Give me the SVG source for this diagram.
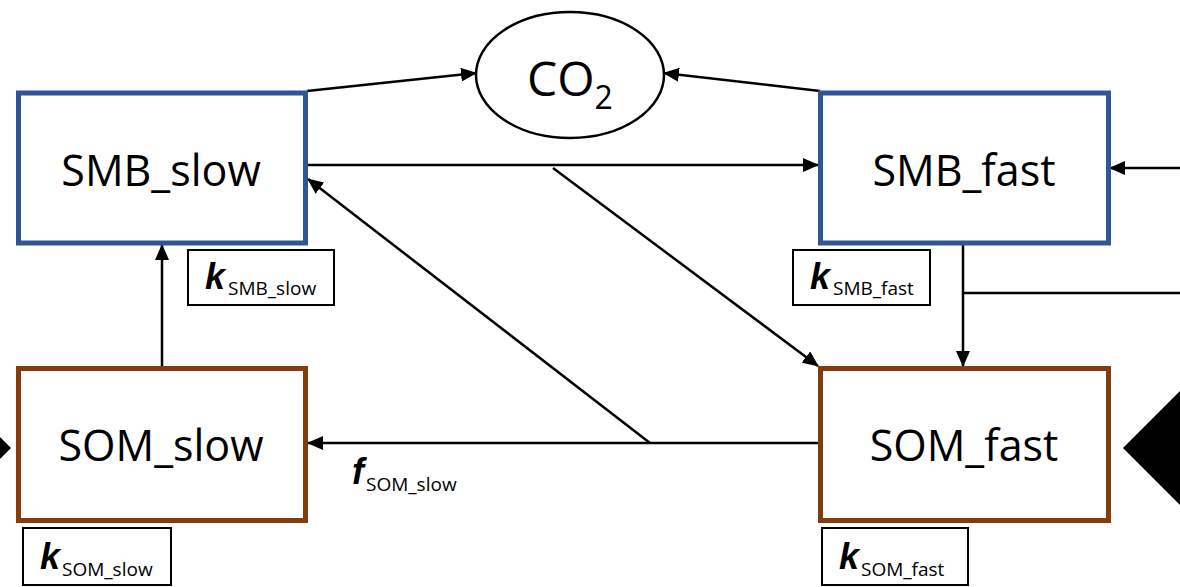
<svg xmlns="http://www.w3.org/2000/svg" width="1180" height="587" viewBox="0 0 1180 587">
<style>
.smb{fill:#fff;stroke:#2F5597;stroke-width:5}
.som{fill:#fff;stroke:#843C0C;stroke-width:5}
.main{font-family:"Open Sans","Liberation Sans",sans-serif;font-size:43px;fill:#000;text-anchor:middle}
.lbl{fill:#fff;stroke:#000;stroke-width:2}
.k{font-family:"Liberation Sans",Arial,sans-serif;font-weight:bold;font-style:italic;font-size:36px;fill:#000}
.sub{font-family:"Open Sans","Liberation Sans",sans-serif;font-size:19px;fill:#000}
.ln{stroke:#000;stroke-width:2.5;fill:none}
.arr{marker-end:url(#ah)}
</style>
<defs>
<marker id="ah" markerUnits="userSpaceOnUse" markerWidth="16" markerHeight="14" refX="15" refY="7" orient="auto">
<path d="M0,0 L16,7 L0,14 Z" fill="#000"/>
</marker>
</defs>
<rect width="1180" height="587" fill="#fff"/>
<g id="connectors">
<line class="ln arr" x1="307" y1="91" x2="476" y2="73"/>
<line class="ln arr" x1="820" y1="91" x2="664" y2="73"/>
<line class="ln arr" x1="307" y1="165" x2="818" y2="165"/>
<line class="ln arr" x1="553" y1="168" x2="818" y2="366"/>
<line class="ln arr" x1="818" y1="443" x2="308" y2="443"/>
<line class="ln arr" x1="650" y1="443" x2="308" y2="179"/>
<line class="ln arr" x1="162" y1="366" x2="162" y2="245"/>
<line class="ln arr" x1="963" y1="243" x2="963" y2="366"/>
<line class="ln" x1="963" y1="293" x2="1180" y2="293"/>
<line class="ln arr" x1="1180" y1="168" x2="1110" y2="168"/>
<polygon points="1123,448 1180,391 1180,505" fill="#000"/>
<polygon points="0,437 11,448 0,459" fill="#000"/>
</g>
<g id="co2">
<ellipse cx="570" cy="75" rx="94" ry="63" fill="#fff" stroke="#000" stroke-width="2.5"/>
<text x="527" y="96" font-family="'Open Sans','Liberation Sans',sans-serif" font-size="48px">CO<tspan font-size="32px" dy="13">2</tspan></text>
</g>
<g id="smb_slow">
<rect class="smb" x="18.5" y="93" width="287" height="150"/>
<text class="main" x="161" y="186">SMB_slow</text>
</g>
<g id="smb_fast">
<rect class="smb" x="820.5" y="93" width="288" height="150"/>
<text class="main" x="964" y="186">SMB_fast</text>
</g>
<g id="som_slow">
<rect class="som" x="18.5" y="368.5" width="287" height="152"/>
<text class="main" x="161" y="461">SOM_slow</text>
</g>
<g id="som_fast">
<rect class="som" x="820.5" y="368.5" width="288" height="152"/>
<text class="main" x="964" y="461">SOM_fast</text>
</g>
<g id="k_smb_slow">
<rect class="lbl" x="188" y="250" width="146" height="55"/>
<text class="k" x="205" y="289">k</text>
<text class="sub" x="228" y="295">SMB_slow</text>
</g>
<g id="k_smb_fast">
<rect class="lbl" x="793" y="250" width="137" height="55"/>
<text class="k" x="810" y="289">k</text>
<text class="sub" x="833" y="295">SMB_fast</text>
</g>
<g id="k_som_slow">
<rect class="lbl" x="23" y="528" width="148" height="57"/>
<text class="k" x="40" y="569">k</text>
<text class="sub" x="62" y="576">SOM_slow</text>
</g>
<g id="k_som_fast">
<rect class="lbl" x="822" y="528" width="146" height="57"/>
<text class="k" x="839" y="569">k</text>
<text class="sub" x="861" y="576">SOM_fast</text>
</g>
<g id="f_som_slow">
<text class="k" x="352" y="484">f</text>
<text class="sub" x="366" y="491" font-size="22px">SOM_slow</text>
</g>
</svg>
